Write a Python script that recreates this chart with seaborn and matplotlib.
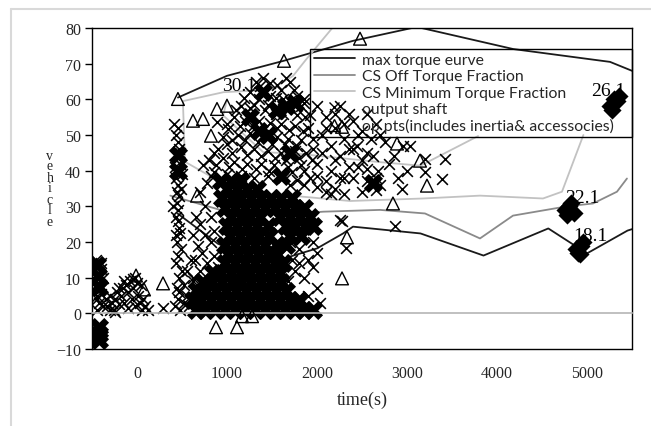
import matplotlib
matplotlib.use("Agg")
import matplotlib.pyplot as plt
from matplotlib.lines import Line2D
import pandas as pd
import seaborn as sns

# ---- limit / contour lines (time [s], vehicle speed) ----
MAX_TOP_T = [455, 1000, 1630, 2400, 3110, 4180, 5256, 5500]
MAX_TOP_V = [60.5, 66.6, 70.8, 76.4, 80.3, 74.1, 70.5, 68]
MAX_LOW_T = [450, 900, 1450, 2000, 2290, 2400, 3150, 3850, 4570, 5000, 5450, 5500]
MAX_LOW_V = [28, 19.5, 14, 18.2, 22.4, 24.3, 22.4, 16.2, 23.8, 16.8, 23.2, 23.6]

OFF_T = [370, 1510, 1800, 2070, 2700, 3200, 3811, 4178, 4778, 5067, 5333, 5444]
OFF_V = [33, 24.8, 28, 28.5, 29, 28, 21, 27.4, 30, 30.8, 34.1, 37.8]

MIN_A_T = [2170, 1883, 1735, 1510, 1340, 960, 510, 533, 1000, 1444, 2367, 3178, 3811, 4511, 4722, 4960]
MIN_A_V = [80, 71.3, 66.6, 63, 62.5, 62, 59.5, 42.5, 35.8, 33.6, 31.5, 32.2, 33, 32.2, 34.1, 50]
MIN_B_T = [1000, 958, 1402, 1809, 2697, 3150, 3790]
MIN_B_V = [60, 55.5, 45.2, 44.7, 42.4, 41.4, 49.7]

# ---- contour labels ----
LABEL_TXT = ["30.1", "26.1", "22.1", "18.1"]
LABEL_T = [1135, 5233, 4944, 5033]
LABEL_V = [64, 62.4, 32.4, 21.8]

# ---- diamond clusters at the contour labels ----
DIAMOND_T = [5250, 5300, 5350, 5280, 5330, 4750, 4800, 4850, 4780, 4820, 4880, 4930, 4900, 4960, 4920]
DIAMOND_V = [58, 60, 61, 57, 59.5, 29, 30, 28, 27.5, 31, 18, 19, 17, 20, 16.5]

# ---- op pts (includes inertia & accessories) ----
OP_T = [455, 622, 733, 822, 889, 1000, 1633, 2478, 2278, 2889, 3144, 3222, 2844,
        2333, 2278, 667, -11, 78, 289, 878, 1111, 1167, 1278]
OP_V = [60.1, 54, 54.5, 49.8, 57.3, 58.2, 70.8, 77, 52.3, 47.6, 42.8, 35.8, 30.8,
        21.3, 9.8, 33, 10.6, 6.7, 8.4, -3.9, -3.9, -0.8, -0.8]

# ---- output shaft: dense cores (speed, [times]) ----
CORE_ROWS = [
    (1.0, [650, 760, 870, 980, 1090, 1200, 1310, 1420, 1530, 1640, 1750, 1860, 1950]),
    (3.6, [620, 710, 820, 930, 1040, 1150, 1260, 1370, 1480, 1590, 1700, 1800]),
    (6.2, [670, 770, 880, 990, 1100, 1210, 1320, 1430, 1540, 1650]),
    (8.8, [730, 830, 940, 1050, 1160, 1270, 1380, 1490, 1600]),
    (11.4, [840, 930, 1040, 1150, 1260, 1370, 1480, 1590]),
    (14.0, [980, 1090, 1200, 1310, 1420, 1530, 1620]),
    (16.6, [1010, 1120, 1230, 1340, 1450, 1560]),
    (19.2, [980, 1090, 1200, 1310, 1420, 1560, 1660]),
    (21.8, [1030, 1140, 1250, 1360, 1470, 1700, 1820]),
    (24.4, [1000, 1110, 1220, 1330, 1450, 1650, 1760, 1870, 1960]),
    (27.0, [1040, 1150, 1260, 1370, 1590, 1700, 1810, 1920]),
    (29.6, [980, 1090, 1200, 1310, 1420, 1530, 1640, 1750, 1860]),
    (32.2, [940, 1050, 1160, 1270, 1380, 1490, 1600, 1720]),
    (34.8, [1000, 1110, 1220, 1330]),
    (37.2, [930, 1040, 1150]),
]
CORE_EXTRA = [(-440, 13.5), (-430, 10.5), (-420, 7.5), (-420, -3.8), (-425, -5.8), (-420, -7.6),
              (450, 40), (455, 44.5), (1550, 57), (1650, 58), (1450, 50), (1350, 51),
              (1250, 55), (1700, 45), (1600, 38.5), (2620, 36.5), (1750, 59), (1400, 62)]

# ---- output shaft: individual points (time, speed) ----
SHAFT_LEFT = [(-460, 15), (-400, 14), (-380, 10), (-450, 11), (-390, 7), (-450, 4), (-420, 3),
              (-380, 2), (-440, 1), (-470, 12), (-405, 12.5), (-440, 5), (-400, 5.5), (-460, 8)]
SHAFT_LOW = [(-350, 4), (-330, 2), (-300, 5), (-280, 3), (-260, 1), (-240, 4), (-220, 6),
             (-200, 2.5), (-180, 5), (-160, 7), (-140, 3), (-120, 8), (-100, 6), (-80, 9),
             (-60, 4), (-40, 7), (-20, 2), (0, 8.5), (10, 5), (30, 3), (50, 1), (70, 4),
             (90, 2), (120, 1), (-300, 1), (-200, 7), (-100, 1.5), (-50, 9.5), (290, 1.4),
             (-250, 0.5), (-150, 9), (-20, 10), (40, 8)]
SHAFT_COLUMN = [(420, 2), (450, 4), (480, 1), (520, 3), (440, 7), (470, 10), (500, 12), (430, 14),
                (460, 16), (490, 18), (440, 20), (470, 24), (430, 27), (460, 29), (440, 31),
                (470, 33), (450, 36), (430, 38), (460, 40), (480, 42), (440, 44), (470, 46),
                (450, 48), (430, 50), (460, 52), (480, 45), (420, 41), (500, 39), (440, 34),
                (400, 30), (550, 12), (600, 15), (580, 2), (520, 8), (560, 5), (620, 9),
                (478, 22.4), (622, 9.8), (410, 53), (455, 26), (490, 35), (430, 22), (470, 6)]
SHAFT_UPPER = [(1400, 66), (1660, 66), (1365, 63.8), (1700, 64.8), (1560, 64), (1250, 62),
               (1480, 61), (1620, 60), (1780, 61), (1820, 58), (1150, 58), (1300, 58.5),
               (1420, 57), (1540, 56), (1700, 57.5), (1870, 55), (1080, 55), (1200, 54),
               (1350, 54), (1480, 53.5), (1600, 53), (1750, 52.5), (1900, 52), (884, 53.6),
               (1014, 51.7), (1120, 50), (1260, 50.5), (1400, 50), (1550, 49.5), (1680, 49),
               (1820, 48.5), (1950, 49), (903, 46), (1000, 47.5), (1150, 46.5), (1300, 46),
               (1450, 45.5), (1600, 45), (1750, 45.5), (1880, 45), (800, 43), (950, 43.5),
               (1080, 42.5), (1220, 42), (1380, 42), (1520, 41.5), (1680, 41), (1820, 41.5),
               (736, 41.5), (860, 39.5), (1000, 39), (1150, 38.5), (1300, 38), (1460, 38.5),
               (1620, 38), (1780, 37.5), (1920, 38), (780, 36.5)]
SHAFT_UPPER2 = [(1320, 65), (1480, 64.5), (1600, 62.5), (1740, 62.5), (1190, 60.5), (1360, 60),
                (1540, 60.5), (1700, 59.5), (1860, 59), (1100, 57), (1260, 57.5), (1460, 58.5),
                (1620, 56), (1780, 55.5), (1920, 55.5), (1000, 53), (1140, 52.5), (1290, 52.5),
                (1420, 52), (1560, 52), (1690, 51.5), (1840, 51), (950, 49.5), (1060, 48.5),
                (1200, 48.5), (1340, 48), (1500, 47.5), (1640, 47.5), (1780, 47), (1960, 46),
                (860, 45), (1060, 45), (1220, 44.5), (1380, 44), (1530, 43.5), (1660, 43),
                (1800, 43.5), (1940, 43), (880, 41.5), (1020, 41), (1170, 40.5), (1320, 40.5),
                (1470, 40), (1720, 39.5), (1860, 40), (820, 38.5), (960, 37.5), (1700, 36),
                (1860, 36), (2000, 35.5), (2000, 38.5), (2050, 45), (2100, 52), (2200, 56),
                (2300, 53), (2450, 50), (2350, 46), (2200, 43), (2450, 41), (2300, 38),
                (2150, 33.5), (2550, 40.5), (2650, 38)]
SHAFT_MID = [(700, 34), (760, 30), (820, 27), (650, 27), (700, 25), (620, 22), (750, 22),
             (860, 23), (680, 19), (820, 20), (720, 17), (860, 16), (640, 15), (780, 14),
             (900, 13), (700, 12), (840, 11), (1700, 20), (1800, 18), (1900, 15), (1750, 12),
             (1850, 10), (1950, 13), (2000, 7), (1900, 5), (2030, 3), (1800, 14), (1950, 20),
             (2000, 17), (1680, 9), (1720, 15)]
SHAFT_RIGHT = [(2000, 58), (2100, 55), (2050, 50), (2200, 52), (2150, 47), (2300, 49),
               (2250, 44), (2400, 46), (2440, 47), (2500, 43), (2550, 45), (2620, 44),
               (2680, 40), (2350, 41), (2150, 40), (2000, 42), (2100, 37), (2250, 38),
               (2400, 38), (2550, 37), (2700, 36), (2650, 34.5), (2500, 34), (2200, 35),
               (2105, 34), (2300, 33.5), (2253, 26.2), (2327, 18.2), (2278, 26), (2867, 24.6),
               (3033, 47), (3200, 39.7), (3389, 37.8), (3422, 43.4), (3200, 43.4), (2944, 35),
               (2956, 47), (2800, 42), (2750, 48), (2850, 44), (3000, 40), (2900, 38),
               (2350, 56), (2250, 58), (1850, 60), (2400, 54), (2550, 56), (2650, 53),
               (2700, 50), (2500, 51), (2600, 49)]

BLACK = "#1a1a1a"
MID_GRAY = "#8a8a8a"
LIGHT_GRAY = "#c2c2c2"

sns.set_style("white")
plt.rcParams["font.family"] = ["Liberation Serif", "DejaVu Serif"]

fig = plt.figure(figsize=(6.51, 4.27), dpi=100)
ax = fig.add_axes([92 / 651, 1 - 350 / 427, 540 / 651, 321 / 427])

# lines
for t, v, c in [(MAX_TOP_T, MAX_TOP_V, BLACK), (MAX_LOW_T, MAX_LOW_V, BLACK),
                (OFF_T, OFF_V, MID_GRAY), (MIN_A_T, MIN_A_V, LIGHT_GRAY),
                (MIN_B_T, MIN_B_V, LIGHT_GRAY)]:
    sns.lineplot(x=t, y=v, sort=False, estimator=None, color=c, lw=1.3, ax=ax, zorder=1.5)

# output shaft markers
core_pts = [(t, v) for v, ts in CORE_ROWS for t in ts] + CORE_EXTRA
core_df = pd.DataFrame(core_pts, columns=["time", "speed"])
shaft_df = pd.DataFrame(SHAFT_LEFT + SHAFT_LOW + SHAFT_COLUMN + SHAFT_UPPER + SHAFT_UPPER2
                        + SHAFT_MID + SHAFT_RIGHT, columns=["time", "speed"])
sns.scatterplot(data=core_df, x="time", y="speed", marker="X", s=190, color="black",
                linewidth=0, ax=ax, zorder=2, legend=False)
sns.scatterplot(data=shaft_df, x="time", y="speed", marker="x", s=60, color="black",
                linewidth=1.15, ax=ax, zorder=2.1, legend=False)

# diamonds + op pts
sns.scatterplot(x=DIAMOND_T, y=DIAMOND_V, marker="D", s=85, color="black", linewidth=0,
                ax=ax, zorder=2.2, legend=False)
sns.scatterplot(x=OP_T, y=OP_V, marker="^", s=85, facecolor="none", edgecolor="black",
                linewidth=1.0, ax=ax, zorder=3, legend=False)

for txt, t, v in zip(LABEL_TXT, LABEL_T, LABEL_V):
    ax.text(t, v, txt, fontsize=14, ha="center", va="center", color="black", zorder=4)

ax.set_xlim(-500, 5500)
ax.set_ylim(-10, 80)
ax.set_xticks([0, 1000, 2000, 3000, 4000, 5000])
ax.set_yticks(range(-10, 81, 10))
ax.set_xlabel("")
ax.set_ylabel("")

# x axis drawn at speed 0, labels below the frame
ax.spines["bottom"].set_position(("data", 0))
ax.spines["bottom"].set_color("#b5b5b5")
ax.spines["bottom"].set_linewidth(1.2)
for s in ["left", "right", "top"]:
    ax.spines[s].set_color("black")
    ax.spines[s].set_linewidth(1.0)
ax.add_line(Line2D([0, 1], [0, 0], transform=ax.transAxes, color="black", lw=1.0, clip_on=False))
ax.tick_params(axis="x", direction="in", length=5, width=1, color="#999999", pad=37,
               labelsize=11.5)
ax.tick_params(axis="y", direction="out", length=5, width=1, color="black", pad=3,
               labelsize=11.5, left=True)

fig.text(362 / 651, 1 - 400 / 427, "time(s)", fontsize=13, ha="center", va="center")
fig.text(50 / 651, 1 - 189 / 427, "\n".join("vehicle"), fontsize=10, ha="center",
         va="center", linespacing=0.8)

handles = [
    Line2D([], [], color=BLACK, lw=1.3),
    Line2D([], [], color=MID_GRAY, lw=1.3),
    Line2D([], [], color=LIGHT_GRAY, lw=1.3),
    Line2D([], [], color="black", marker="x", ls="none", ms=6.5),
    Line2D([], [], color="black", marker="^", mfc="none", ls="none", ms=9),
]
labels = ["max torque eurve", "CS Off Torque Fraction", "CS Minimum Torque Fraction",
          "output shaft", "op pts(includes inertia& accessocies)"]
leg = ax.legend(handles, labels, loc="upper left", mode="expand",
                bbox_to_anchor=(0.4037, 0.6636, 0.5963, 0.271), borderaxespad=0,
                prop={"family": "Lato", "size": 11.3}, labelspacing=0.15, handlelength=2.6,
                handletextpad=0.45, borderpad=0.25, frameon=True, fancybox=False,
                framealpha=1)
leg.get_frame().set_facecolor("none")
leg.get_frame().set_edgecolor("black")
leg.get_frame().set_linewidth(1.0)
leg.set_zorder(5)

# light outer border of the original figure
fig.add_artist(Line2D([11 / 651, 11 / 651], [0, 1 - 10 / 427], transform=fig.transFigure,
                      color="#d9d9d9", lw=1.5))
fig.add_artist(Line2D([11 / 651, 1], [1 - 10 / 427, 1 - 10 / 427], transform=fig.transFigure,
                      color="#d9d9d9", lw=1.5))

fig.savefig("out.png", dpi=100)
